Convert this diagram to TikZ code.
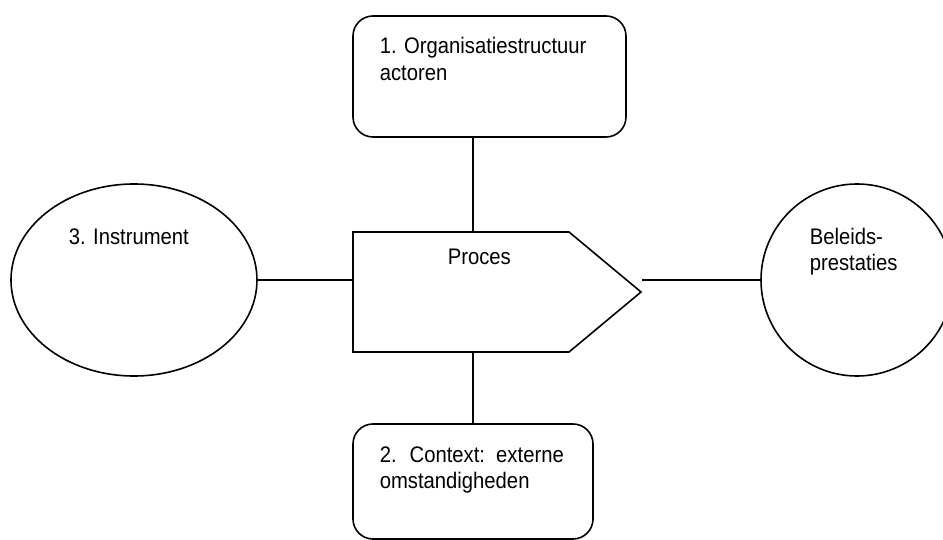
\documentclass[tikz,border=0pt]{standalone}
\usepackage{fontspec}
\setmainfont{Liberation Sans}[FakeStretch=0.9]
\usetikzlibrary{shapes.geometric}
\begin{document}
\begin{tikzpicture}[x=1pt,y=-1pt, line width=1.6pt,
  rbox/.style={draw, rounded corners=20pt, inner sep=0pt},
  lbl/.style={inner sep=0pt, anchor=base west, font=\fontsize{22.5}{27}\selectfont},
  conn/.style={draw}]
\useasboundingbox (0,0) rectangle (943,540);
% boxes
\node[rbox, minimum width=273pt, minimum height=121pt] (org) at (489.5,76.5) {};
\node[rbox, minimum width=240pt, minimum height=115pt] (ctx) at (473,481.5) {};
\node[draw, ellipse, minimum width=246pt, minimum height=192pt, inner sep=0pt] (instr) at (134,280) {};
\node[draw, circle, minimum size=192pt, inner sep=0pt] (pres) at (857,280) {};
% process pentagon
\draw (353,232) -- (569,232) -- (641,292) -- (569,352) -- (353,352) -- cycle;
\coordinate (pTop) at (473,232);
\coordinate (pBot) at (473,352);
\coordinate (pLeft) at (353,280);
\coordinate (pRight) at (642,280);
% connectors
\draw[conn] (pTop |- org.south) -- (pTop);
\draw[conn] (pBot) -- (ctx.north);
\draw[conn] (instr.east) -- (pLeft);
\draw[conn] (pRight) -- (pres.west);
% texts
\node[lbl] (orgA) at (379,54) {1. Organisatiestructuur};
\node[lbl] (orgB) at (379,81) {actoren};
\node[lbl] (proc) at (447,265) {Proces};
\node[lbl] (instrT) at (68,245) {3. Instrument};
\node[lbl] (presA) at (809,245) {Beleids-};
\node[lbl] (presB) at (809,271) {prestaties};
\node[lbl] (ctxA) at (379,462) {\makebox[184pt][s]{2. Context: externe}};
\node[lbl] (ctxB) at (379,488) {omstandigheden};
\end{tikzpicture}
\end{document}
